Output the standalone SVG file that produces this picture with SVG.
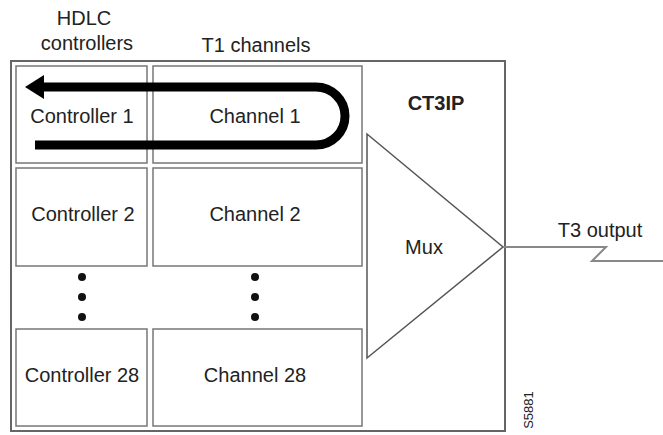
<svg xmlns="http://www.w3.org/2000/svg" width="663" height="435" viewBox="0 0 663 435">
  <defs>
    <style>
      .t { font-family: "Liberation Sans", Arial, sans-serif; font-size: 20px; fill: #222; text-anchor: middle; }
      .b { font-weight: bold; }
      .cell { fill: #fff; stroke: #777; stroke-width: 1.5; }
      .outer { fill: #fff; stroke: #666; stroke-width: 2; }
      .dot { fill: #111; }
    </style>
  </defs>
  <rect width="663" height="435" fill="#fff"/>

  <g id="labels">
    <text class="t" x="84" y="25">HDLC</text>
    <text class="t" x="87" y="50">controllers</text>
    <text class="t" x="256" y="52">T1 channels</text>
  </g>

  <g id="ct3ip">
    <rect class="outer" x="11" y="61" width="494" height="370"/>
    <text class="t b" x="436" y="110">CT3IP</text>
  </g>

  <g id="controller1">
    <rect class="cell" x="16" y="66" width="131" height="97"/>
    <text class="t" x="82" y="123">Controller 1</text>
  </g>
  <g id="channel1">
    <rect class="cell" x="153" y="66" width="209" height="97"/>
    <text class="t" x="255" y="123">Channel 1</text>
  </g>
  <g id="controller2">
    <rect class="cell" x="16" y="168" width="131" height="98"/>
    <text class="t" x="83" y="221">Controller 2</text>
  </g>
  <g id="channel2">
    <rect class="cell" x="153" y="168" width="209" height="98"/>
    <text class="t" x="255" y="221">Channel 2</text>
  </g>
  <g id="controller28">
    <rect class="cell" x="16" y="329" width="131" height="97"/>
    <text class="t" x="82" y="382">Controller 28</text>
  </g>
  <g id="channel28">
    <rect class="cell" x="153" y="329" width="209" height="97"/>
    <text class="t" x="255" y="382">Channel 28</text>
  </g>

  <g id="ellipsis">
    <circle class="dot" cx="82" cy="277" r="4"/>
    <circle class="dot" cx="82" cy="297" r="4"/>
    <circle class="dot" cx="82" cy="317" r="4"/>
    <circle class="dot" cx="255" cy="277" r="4"/>
    <circle class="dot" cx="255" cy="297" r="4"/>
    <circle class="dot" cx="255" cy="317" r="4"/>
  </g>

  <g id="mux">
    <polygon points="367,134 503,247 367,358" fill="#fff" stroke="#555" stroke-width="1.5"/>
    <text class="t" x="424" y="254">Mux</text>
  </g>

  <g id="connectors">
    <path d="M 42 87 H 316 A 29 29 0 0 1 316 145 H 35" fill="none" stroke="#000" stroke-width="9"/>
    <polygon points="25,87 44,75 44,99" fill="#000"/>
    <polyline points="503,247 606,247 592,261 663,261" fill="none" stroke="#888" stroke-width="2"/>
  </g>

  <g id="t3-label">
    <text class="t" x="600" y="237">T3 output</text>
  </g>

  <text font-family="Liberation Sans, Arial, sans-serif" font-size="13" fill="#222" text-anchor="middle" transform="translate(533,410) rotate(-90)">S5881</text>
</svg>
